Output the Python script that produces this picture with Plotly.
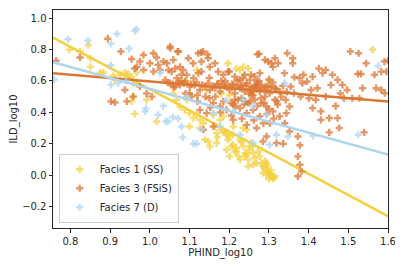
import plotly.graph_objects as go

# ---------------- data ----------------
f1_x = [0.797, 0.824, 0.845, 0.85, 0.85, 0.875, 0.883, 0.908, 0.912, 0.925, 0.937, 0.942, 0.946, 0.954,
        0.958, 0.967, 0.958, 0.962, 0.954, 1.017, 0.992, 1.076, 1.088, 1.093, 1.10, 1.11, 1.118, 1.126,
        1.126, 1.135, 1.139, 1.147, 1.151, 1.16, 1.164, 1.168, 1.18, 1.185, 1.193, 1.197, 1.201, 1.206,
        1.21, 1.214, 1.218, 1.223, 1.227, 1.235, 1.24, 1.244, 1.248, 1.252, 1.256, 1.26, 1.264, 1.269,
        1.277, 1.281, 1.285, 1.289, 1.294, 1.298, 1.302, 1.304, 1.306, 1.309, 1.312, 1.315, 1.294, 1.285,
        1.30, 1.26, 1.248, 1.24, 1.21, 1.244, 1.235, 1.21, 1.185, 1.177, 1.18, 1.201, 1.197, 1.218,
        1.227, 1.235, 1.248, 1.302, 1.561, 1.067, 1.059, 1.093, 1.143, 1.118, 1.10, 1.168, 1.193, 1.218,
        1.26, 1.273, 1.227, 1.294, 1.201, 1.305, 1.296, 1.31, 1.29, 1.25, 1.23, 1.19, 1.17]
f1_y = [0.80, 0.788, 0.83, 0.745, 0.69, 0.654, 0.654, 0.633, 0.607, 0.64, 0.654, 0.628, 0.645, 0.624,
        0.586, 0.654, 0.50, 0.39, 0.47, 0.342, 0.48, 0.437, 0.416, 0.48, 0.395, 0.363, 0.385, 0.352,
        0.30, 0.33, 0.225, 0.214, 0.183, 0.384, 0.31, 0.267, 0.289, 0.278, 0.257, 0.225, 0.246, 0.183,
        0.193, 0.15, 0.15, 0.119, 0.098, 0.183, 0.14, 0.13, 0.098, 0.183, 0.204, 0.14, 0.108, 0.076,
        0.119, 0.076, 0.055, 0.045, 0.034, 0.023, 0.013, 0.002, -0.008, -0.019, -0.023, -0.008, 0.002, 0.013,
        -0.025, 0.066, 0.055, 0.119, 0.257, 0.289, 0.30, 0.31, 0.374, 0.352, 0.52, 0.51, 0.713, 0.68,
        0.67, 0.69, 0.68, 0.60, 0.80, 0.48, 0.52, 0.597, 0.543, 0.67, 0.31, 0.204, 0.161, 0.172,
        0.183, 0.15, 0.225, 0.076, 0.119, 0.03, 0.06, -0.01, 0.09, 0.16, 0.21, 0.27, 0.24]

f3_x = [0.764, 0.824, 0.894, 0.927, 0.902, 0.912, 0.942, 0.958, 0.937, 0.954, 0.967, 0.975,
        0.984, 1.009, 1.017, 1.005, 0.992, 0.975, 1.051, 1.072, 1.059, 1.043, 1.034, 1.021, 1.026, 1.009,
        1.047, 1.055, 1.064, 1.076, 1.084, 1.039, 1.051, 1.064, 1.076, 1.089, 1.101, 1.113,
        1.126, 1.139, 1.151, 1.164, 1.177, 1.189, 1.201, 1.214, 1.227, 1.239, 1.252, 1.264, 1.277, 1.289,
        1.302, 1.315, 1.327,
        1.097, 1.109, 1.122, 1.134, 1.13, 1.147, 1.151, 1.164, 1.172, 1.185, 1.197, 1.214, 1.226, 1.239,
        1.252, 1.264, 1.277, 1.275, 1.298, 1.31, 1.323, 1.346, 1.36, 1.36, 1.339, 1.364, 1.377,
        1.21, 1.227, 1.244, 1.26, 1.277, 1.294, 1.31, 1.327, 1.344, 1.352, 1.21, 1.244, 1.269, 1.285,
        1.294, 1.319, 1.336, 1.352, 1.373, 1.378, 1.373, 1.378, 1.382, 1.373, 1.302, 1.16, 1.135,
        1.401, 1.406, 1.418, 1.41, 1.431, 1.431, 1.452, 1.452, 1.456, 1.473, 1.468, 1.473, 1.477, 1.426,
        1.435, 1.443, 1.46, 1.387, 1.384, 1.396, 1.41, 1.422, 1.443, 1.48, 1.497, 1.489, 1.51, 1.528,
        1.536, 1.524, 1.532, 1.505, 1.526, 1.545, 1.566, 1.583, 1.591, 1.57, 1.583, 1.592, 1.54, 1.485,
        1.363, 1.38, 1.355, 1.342,
        1.126, 1.143, 1.177, 1.193, 1.214, 1.231, 1.248, 1.264, 1.281, 1.315, 1.331,
        1.21, 1.244, 1.256, 1.269, 1.281, 1.298, 1.26, 1.269,
        1.08, 1.068, 1.093, 1.11, 1.122, 0.962, 0.984, 1.0,
        1.23, 1.25, 1.27, 1.29, 1.31, 1.22, 1.24, 1.26, 1.28, 1.30, 1.32, 1.19, 1.17, 1.15, 1.13,
        1.12, 1.14, 1.16, 1.18, 1.2, 1.215, 1.235, 1.255, 1.275, 1.295, 1.335, 1.345, 1.06, 1.08, 1.10,
        1.051, 1.07, 1.129, 1.145, 1.271, 1.29, 1.306, 1.315, 1.6, 1.596,
        1.045, 1.058, 1.072, 1.086, 1.104, 1.118, 1.132, 1.146, 1.158, 1.171, 1.184, 1.196, 1.207, 1.219,
        1.231, 1.243, 1.256, 1.268, 1.28, 1.292, 1.305, 1.318,
        1.09, 1.105, 1.12, 1.15, 1.165, 1.185, 1.205, 1.222, 1.238, 1.252, 1.27, 1.288, 1.3, 1.322,
        1.152, 1.178, 1.206, 1.232, 1.262, 1.286, 1.312, 1.34]
f3_y = [0.73, 0.75, 0.87, 0.788, 0.47, 0.463, 0.47, 0.50, 0.543, 0.74, 0.69, 0.724,
        0.766, 0.777, 0.75, 0.50, 0.52, 0.565, 0.82, 0.788, 0.735, 0.713, 0.724, 0.703, 0.67, 0.66,
        0.67, 0.66, 0.68, 0.69, 0.67, 0.607, 0.586, 0.565, 0.575, 0.597, 0.565, 0.575,
        0.543, 0.565, 0.543, 0.554, 0.533, 0.565, 0.543, 0.522, 0.554, 0.533, 0.543, 0.565, 0.533, 0.543,
        0.522, 0.554, 0.533,
        0.745, 0.713, 0.777, 0.788, 0.724, 0.745, 0.69, 0.713, 0.66, 0.64, 0.66, 0.628, 0.607, 0.64,
        0.607, 0.628, 0.65, 0.773, 0.724, 0.69, 0.713, 0.777, 0.745, 0.713, 0.65, 0.624, 0.618,
        0.45, 0.427, 0.395, 0.416, 0.374, 0.437, 0.406, 0.374, 0.395, 0.437, 0.352, 0.32, 0.30, 0.214,
        0.246, 0.204, 0.20, 0.278, 0.246, 0.19, 0.119, 0.066, 0.023, -0.008, 0.33, 0.31, 0.289,
        0.49, 0.543, 0.48, 0.427, 0.406, 0.352, 0.363, 0.272, 0.575, 0.607, 0.44, 0.363, 0.30, 0.68,
        0.65, 0.67, 0.64, 0.64, 0.586, 0.597, 0.628, 0.554, 0.50, 0.52, 0.543, 0.49, 0.49, 0.49,
        0.554, 0.645, 0.645, 0.788, 0.777, 0.713, 0.64, 0.66, 0.724, 0.554, 0.543, 0.522, 0.272, 0.575,
        0.522, 0.50, 0.565, 0.48,
        0.416, 0.395, 0.437, 0.416, 0.48, 0.49, 0.458, 0.48, 0.458, 0.48, 0.50,
        0.575, 0.586, 0.512, 0.597, 0.575, 0.565, 0.533, 0.554,
        0.64, 0.618, 0.64, 0.618, 0.65, 0.68, 0.67, 0.713,
        0.56, 0.52, 0.58, 0.50, 0.59, 0.60, 0.47, 0.51, 0.49, 0.61, 0.47, 0.60, 0.58, 0.62, 0.66,
        0.47, 0.50, 0.46, 0.60, 0.66, 0.44, 0.62, 0.64, 0.60, 0.39, 0.57, 0.53, 0.56, 0.60, 0.52,
        0.809, 0.788, 0.781, 0.77, 0.77, 0.735, 0.713, 0.745, 0.73, 0.66,
        0.59, 0.58, 0.595, 0.585, 0.58, 0.59, 0.575, 0.585, 0.57, 0.58, 0.575, 0.57, 0.58, 0.565,
        0.575, 0.57, 0.56, 0.57, 0.555, 0.565, 0.56, 0.55,
        0.52, 0.50, 0.51, 0.49, 0.50, 0.47, 0.46, 0.48, 0.45, 0.47, 0.44, 0.46, 0.42, 0.45,
        0.43, 0.40, 0.38, 0.36, 0.35, 0.33, 0.36, 0.33]

f7_x = [0.794, 0.844, 0.902, 0.917, 0.948, 0.966, 0.962, 0.759, 0.902, 0.902, 0.92, 0.94, 0.99, 0.988,
        1.034, 1.021, 1.04, 1.046, 1.058, 1.071, 1.08, 1.083, 1.11, 1.118, 1.13, 1.177, 1.193, 1.227,
        1.26, 1.302, 1.319, 1.34, 1.348, 1.411, 1.525, 1.575, 1.093, 1.026, 1.16, 1.21, 1.236, 1.26,
        1.294]
f7_y = [0.866, 0.858, 0.839, 0.90, 0.807, 0.93, 0.92, 0.61, 0.70, 0.575, 0.586, 0.60, 0.425, 0.406,
        0.44, 0.384, 0.342, 0.342, 0.37, 0.36, 0.31, 0.24, 0.20, 0.20, 0.293, 0.31, 0.476, 0.257,
        0.204, 0.193, 0.257, 0.586, 0.246, 0.25, 0.257, 0.696, 0.50, 0.65, 0.395, 0.405, 0.48, 0.44,
        0.384]

# regression lines (endpoints)
line_x = [0.756, 1.6]
f1_line = [0.877, -0.263]
f3_line = [0.65, 0.469]
f7_line = [0.72, 0.13]

names = ["Facies 1 (SS)", "Facies 3 (FSiS)", "Facies 7 (D)"]
colors = ["#F4D03F", "#DC7633", "#AED6F1"]

fig = go.Figure()
series = [(f1_x, f1_y, f1_line), (f3_x, f3_y, f3_line), (f7_x, f7_y, f7_line)]
for (xs, ys, ln), nm, c in zip(series, names, colors):
    fig.add_trace(go.Scatter(x=xs, y=ys, mode="markers", name=nm,
                             marker=dict(symbol="cross", size=6, color=c, opacity=0.75,
                                         line=dict(width=0))))
    fig.add_trace(go.Scatter(x=line_x, y=ln, mode="lines", showlegend=False,
                             line=dict(color=c, width=2.5), hoverinfo="skip"))

axis_common = dict(showline=True, linecolor="#262626", linewidth=1, mirror=True,
                   ticks="outside", ticklen=3.5, tickwidth=0.8, tickcolor="#262626",
                   showgrid=False, zeroline=False, automargin=False,
                   tickfont=dict(family="DejaVu Sans", size=10, color="#262626"))

# the page body adds an 8px offset; the figure is sized to compensate
fig.update_layout(
    template="none",
    width=395, height=259,
    margin=dict(l=45, r=15, t=2, b=39),
    paper_bgcolor="white", plot_bgcolor="white",
    font=dict(family="DejaVu Sans", size=10, color="#262626"),
    xaxis=dict(range=[0.756, 1.6], tickvals=[0.8, 0.9, 1.0, 1.1, 1.2, 1.3, 1.4, 1.5, 1.6],
               tickformat=".1f",
               title=dict(text="PHIND_log10", font=dict(size=10), standoff=3), **axis_common),
    yaxis=dict(range=[-0.338, 1.053], tickvals=[-0.2, 0.0, 0.2, 0.4, 0.6, 0.8, 1.0],
               tickformat=".1f",
               title=dict(text="ILD_log10", font=dict(size=10), standoff=6), **axis_common),
    legend=dict(x=0.017, y=0.024, xanchor="left", yanchor="bottom",
                bgcolor="rgba(255,255,255,0.8)", bordercolor="#cccccc", borderwidth=1,
                font=dict(size=10, color="#262626"), itemsizing="trace",
                tracegroupgap=0),
    showlegend=True,
)

fig.write_html("out.html")
